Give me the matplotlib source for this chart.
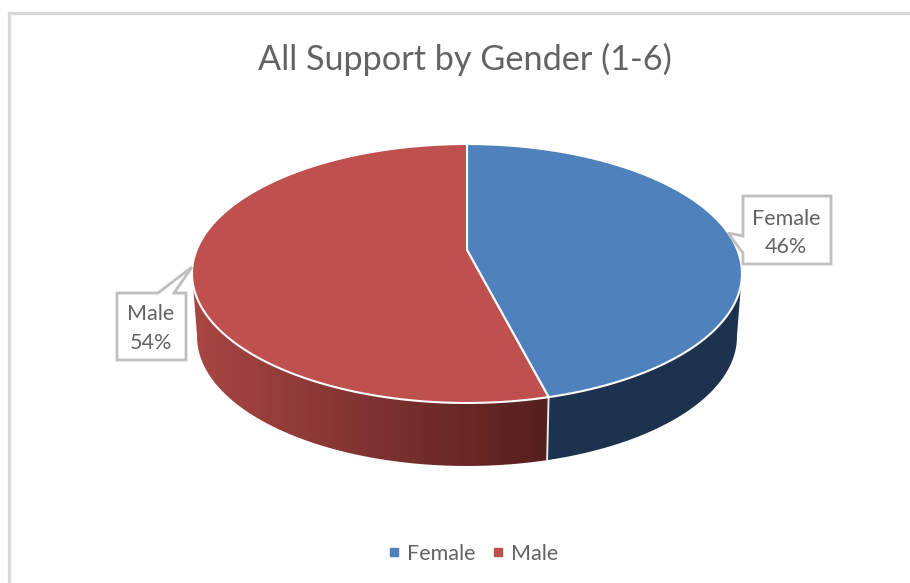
import numpy as np
import matplotlib
matplotlib.use("Agg")
import matplotlib.pyplot as plt
from matplotlib.lines import Line2D
from matplotlib.patches import Polygon

# --- data ---
categories = ["Female", "Male"]
values = [46, 54]
title = "All Support by Gender (1-6)"

top_colors = ["#4F81BD", "#BE504D"]
GREY = "#636363"
W, H = 910, 583

plt.rcParams["font.family"] = ["Lato", "DejaVu Sans"]
fig = plt.figure(figsize=(W / 100, H / 100), dpi=100, facecolor="white")
ax = fig.add_axes([0, 0, 1, 1])
ax.set_xlim(0, W)
ax.set_ylim(H, 0)
ax.axis("off")

# perspective projection of the pie disc
AX, AY = 467.0, 250.0      # projected centre of the disc
A, B, K = 125.2, 270.4, 0.1815


def project(theta):
    """theta measured clockwise from 12 o'clock (radians)."""
    X, Y = np.sin(theta), np.cos(theta)
    w = 1 + K * Y
    return AX + B * X / w, AY - A * Y / w


def base(x, y):
    return AX + (x - AX) * 270 / 275, y + 63


def wall_colour(slice_index, x):
    if slice_index == 0:
        return np.tile(np.array([29, 50, 78]) / 255, (len(x), 1))
    f = np.clip((x - 195) / (551 - 195), 0, 1)[:, None]
    return (np.array([168, 70, 67]) * (1 - f) + np.array([84, 31, 29]) * f) / 255


edges = np.concatenate([[0], np.cumsum(values)]) / np.sum(values) * 2 * np.pi

# side walls: horizontal gradient clipped to the visible wall outline
for i in range(len(values)):
    th = np.linspace(edges[i], edges[i + 1], 600)
    xs, ys = project(th)
    keep = ys >= 272
    xs, ys = xs[keep], ys[keep]
    bx, by = base(xs, ys)
    outline = Polygon(np.c_[np.r_[xs, bx[::-1]], np.r_[ys, by[::-1]]], closed=True,
                      facecolor="none", edgecolor="none", zorder=2)
    ax.add_patch(outline)
    x0, x1 = np.r_[xs, bx].min() - 2, np.r_[xs, bx].max() + 2
    columns = np.linspace(x0, x1, 256)
    img = ax.imshow(wall_colour(i, columns)[None, :, :],
                    extent=(x0, x1, np.r_[ys, by].max() + 2, np.r_[ys, by].min() - 2),
                    aspect="auto", interpolation="bilinear", zorder=2)
    img.set_clip_path(outline)
ax.set_xlim(0, W)
ax.set_ylim(H, 0)

# divider on the wall between slices
xd, yd = project(edges[1])
bxd, byd = base(xd, yd)
ax.plot([xd, bxd], [yd, byd], color="#E8E8E8", lw=1.4, zorder=3)

# top faces
for i in range(len(values)):
    th = np.linspace(edges[i], edges[i + 1], 300)
    xs, ys = project(th)
    ax.fill(np.r_[AX, xs], np.r_[AY, ys], facecolor=top_colors[i],
            edgecolor="white", lw=1.5, joinstyle="miter", zorder=4)

# callouts
female_box = [(743, 196), (831, 196), (831, 264), (743, 264), (743, 253), (728, 233), (743, 236)]
male_box = [(117, 293), (158, 293), (192, 267), (174, 293), (186, 293), (186, 360), (117, 360)]
for pts in (female_box, male_box):
    ax.add_patch(Polygon(pts, closed=True, facecolor="white", edgecolor="#BFBFBF",
                         lw=2, joinstyle="miter", zorder=5))

pct = [f"{round(v / sum(values) * 100)}%" for v in values]
ax.text(786, 233, f"{categories[0]}\n{pct[0]}", ha="center", va="center",
        fontsize=15.5, color=GREY, linespacing=1.55, zorder=6)
ax.text(151, 328.5, f"{categories[1]}\n{pct[1]}", ha="center", va="center",
        fontsize=15.5, color=GREY, linespacing=1.55, zorder=6)

# title
ax.text(465, 59.5, title, ha="center", va="center", fontsize=24.7, color=GREY)

# legend
handles = [Line2D([], [], marker="s", linestyle="none", markersize=6.3,
                  markerfacecolor=c, markeredgecolor=c) for c in top_colors]
ax.legend(handles, categories, loc="center", bbox_to_anchor=(471 / W, 1 - 554 / H),
          ncol=2, frameon=False, fontsize=15.5, labelcolor=GREY, handletextpad=0.1,
          columnspacing=0.55, handlelength=1.0, borderpad=0)

# chart frame (open at right and bottom)
ax.plot([9, 9, W], [H, 13, 13], color="#D9D9D9", lw=2.4, solid_joinstyle="miter", zorder=1)

fig.savefig("out.png", dpi=100, facecolor="white")
